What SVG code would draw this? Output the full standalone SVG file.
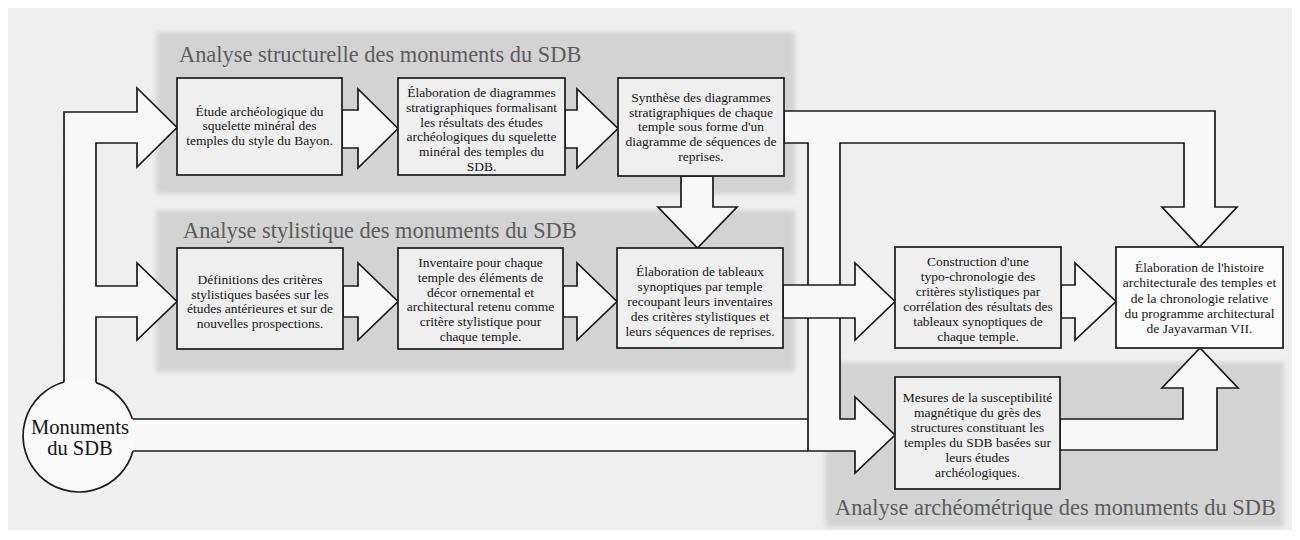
<svg xmlns="http://www.w3.org/2000/svg" width="1300" height="540" viewBox="0 0 1300 540">
<defs>
<filter id="soft" x="-5%" y="-10%" width="110%" height="120%"><feGaussianBlur stdDeviation="2.5"/></filter>
<style>
.conn{fill:#f8f8f8;stroke:#1a1a1a;stroke-width:1.7;stroke-linejoin:miter}
.line{fill:none;stroke:#1a1a1a;stroke-width:1.7}
.box{fill:#efefef;stroke:#1a1a1a;stroke-width:1.7}
.boxw{fill:#fcfcfc;stroke:#1a1a1a;stroke-width:1.7}
.t{font-family:"Liberation Serif","Times New Roman",serif;font-size:13.5px;fill:#151515;text-anchor:middle}
.title{font-family:"Liberation Serif","Times New Roman",serif;font-size:22.4px;fill:#5c5c5c}
.grp{fill:#d3d3d3;filter:url(#soft)}
</style>
</defs>
<rect x="0" y="0" width="1300" height="540" fill="#ffffff"/>
<rect x="8" y="8" width="1284" height="522" fill="#efefef"/>

<g id="group-structurelle">
<rect class="grp" x="156" y="32" width="639" height="162"/>
<text class="title" x="179" y="62">Analyse structurelle des monuments du SDB</text>
</g>
<g id="group-stylistique">
<rect class="grp" x="156" y="210" width="639" height="162"/>
<text class="title" x="183" y="238">Analyse stylistique des monuments du SDB</text>
</g>
<g id="group-archeometrique">
<rect class="grp" x="825" y="362" width="459" height="165"/>
<text class="title" x="835" y="515">Analyse archéométrique des monuments du SDB</text>
</g>

<g id="connectors">
<rect x="120" y="419" width="692" height="32" fill="#f8f8f8"/>
<path class="line" d="M133,419 H808 M133,451 H808"/>
<polygon class="conn" points="784,111 1215,111 1215,207 1237,207 1199.5,247 1162,207 1184,207 1184,143 840,143 840,419 855,419 855,397 895,435 855,473 855,451 808,451 808,143 784,143"/>
<polygon class="conn" points="64,400 64,112 137,112 137,88 177,127.5 137,167 137,143 96,143 96,286 137,286 137,263 177,301.5 137,340 137,317 96,317 96,400"/>
<polygon class="conn" points="342,110 358,110 358,89 398,128.5 358,168 358,148 342,148"/>
<polygon class="conn" points="565,110 577,110 577,89 618,128.5 577,168 577,148 565,148"/>
<polygon class="conn" points="343,286 358,286 358,263 398,301.5 358,340 358,317 343,317"/>
<polygon class="conn" points="563,286 577,286 577,263 617,301.5 577,340 577,317 563,317"/>
<polygon class="conn" points="681,176 681,207 658,207 697.5,248 737,207 713,207 713,176"/>
<polygon class="conn" points="783,285 855,285 855,263 895,301.5 855,340 855,318 783,318"/>
<polygon class="conn" points="1061,285 1075,285 1075,263 1116,301.5 1075,340 1075,318 1061,318"/>
<polygon class="conn" points="1060,419 1183,419 1183,388 1162,388 1200,348 1238,388 1217,388 1217,450 1060,450"/>
</g>

<g id="monuments">
<circle cx="79" cy="436" r="56" fill="#fafafa"/>
<path class="line" d="M96,382.6 A56,56 0 0 1 132.4,419 M133,451 A56,56 0 1 1 64,382"/>
<text font-family="Liberation Serif, Times New Roman, serif" font-size="20.5" fill="#151515" text-anchor="middle"><tspan x="80" y="433.5">Monuments</tspan><tspan x="80" y="454.5">du SDB</tspan></text>
</g>

<g id="etude-archeologique">
<rect class="box" x="177" y="78" width="165" height="97"/>
<text class="t"><tspan x="259.5" y="115.5">Étude archéologique du</tspan><tspan x="259.5" y="130">squelette minéral des</tspan><tspan x="259.5" y="144.5">temples du style du Bayon.</tspan></text>
</g>
<g id="diagrammes-stratigraphiques">
<rect class="box" x="398" y="78" width="167" height="97"/>
<text class="t"><tspan x="481.5" y="97">Élaboration de diagrammes</tspan><tspan x="481.5" y="111.8">stratigraphiques formalisant</tspan><tspan x="481.5" y="126.6">les résultats des études</tspan><tspan x="481.5" y="141.4">archéologiques du squelette</tspan><tspan x="481.5" y="156.2">minéral des temples du</tspan><tspan x="481.5" y="171">SDB.</tspan></text>
</g>
<g id="synthese-diagrammes">
<rect class="box" x="618" y="78" width="166" height="98"/>
<text class="t"><tspan x="701" y="102">Synthèse des diagrammes</tspan><tspan x="701" y="116.7">stratigraphiques de chaque</tspan><tspan x="701" y="131.4">temple sous forme d'un</tspan><tspan x="701" y="146.1">diagramme de séquences de</tspan><tspan x="701" y="160.8">reprises.</tspan></text>
</g>
<g id="definitions-criteres">
<rect class="box" x="177" y="248" width="166" height="101"/>
<text class="t"><tspan x="260" y="284">Définitions des critères</tspan><tspan x="260" y="298.7">stylistiques basées sur les</tspan><tspan x="260" y="313.4">études antérieures et sur de</tspan><tspan x="260" y="328.1">nouvelles prospections.</tspan></text>
</g>
<g id="inventaire">
<rect class="box" x="398" y="248" width="165" height="101"/>
<text class="t"><tspan x="480.5" y="267">Inventaire pour chaque</tspan><tspan x="480.5" y="281.8">temple des éléments de</tspan><tspan x="480.5" y="296.6">décor ornemental et</tspan><tspan x="480.5" y="311.4">architectural retenu comme</tspan><tspan x="480.5" y="326.2">critère stylistique pour</tspan><tspan x="480.5" y="341">chaque temple.</tspan></text>
</g>
<g id="tableaux-synoptiques">
<rect class="box" x="617" y="248" width="166" height="100"/>
<text class="t"><tspan x="700" y="276">Élaboration de tableaux</tspan><tspan x="700" y="291">synoptiques par temple</tspan><tspan x="700" y="306">recoupant leurs inventaires</tspan><tspan x="700" y="321">des critères stylistiques et</tspan><tspan x="700" y="336">leurs séquences de reprises.</tspan></text>
</g>
<g id="typo-chronologie">
<rect class="box" x="895" y="247" width="166" height="101"/>
<text class="t"><tspan x="978" y="266">Construction d'une</tspan><tspan x="978" y="281">typo-chronologie des</tspan><tspan x="978" y="296">critères stylistiques par</tspan><tspan x="978" y="311">corrélation des résultats des</tspan><tspan x="978" y="326">tableaux synoptiques de</tspan><tspan x="978" y="341">chaque temple.</tspan></text>
</g>
<g id="histoire-architecturale">
<rect class="boxw" x="1116" y="247" width="167" height="101"/>
<text class="t"><tspan x="1199.5" y="272">Élaboration de l'histoire</tspan><tspan x="1199.5" y="287.3">architecturale des temples et</tspan><tspan x="1199.5" y="302.6">de la chronologie relative</tspan><tspan x="1199.5" y="317.9">du programme architectural</tspan><tspan x="1199.5" y="333.2">de Jayavarman VII.</tspan></text>
</g>
<g id="susceptibilite-magnetique">
<rect class="box" x="895" y="377" width="165" height="112"/>
<text class="t"><tspan x="977.5" y="402">Mesures de la susceptibilité</tspan><tspan x="977.5" y="417">magnétique du grès des</tspan><tspan x="977.5" y="432">structures constituant les</tspan><tspan x="977.5" y="447">temples du SDB basées sur</tspan><tspan x="977.5" y="462">leurs études</tspan><tspan x="977.5" y="477">archéologiques.</tspan></text>
</g>
</svg>
